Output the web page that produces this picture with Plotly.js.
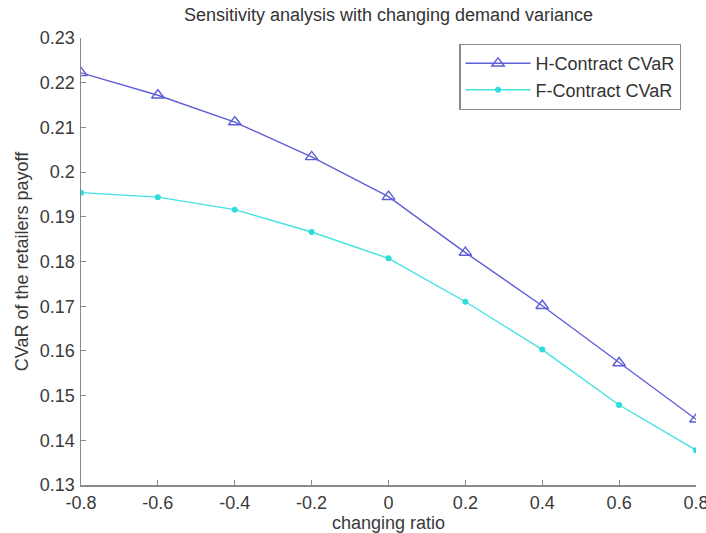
<!DOCTYPE html>
<html>
<head>
<meta charset="utf-8">
<script src="https://cdn.plot.ly/plotly-3.0.1.min.js"></script>
<style>html,body{margin:0;padding:0;background:#fff;}#chart{width:706px;height:533px;}</style>
</head>
<body>
<div id="chart"></div>
<script>
const changingRatio = [-0.8, -0.6, -0.4, -0.2, 0, 0.2, 0.4, 0.6, 0.8];
const hContractCVaR = [0.2222, 0.2172, 0.2112, 0.2034, 0.1945, 0.1820, 0.1701, 0.1573, 0.1447];
const fContractCVaR = [0.1954, 0.1944, 0.1916, 0.1866, 0.1807, 0.1710, 0.1603, 0.1479, 0.1378];
const xTickVals = [-0.8, -0.6, -0.4, -0.2, 0, 0.2, 0.4, 0.6, 0.8];
const xTickText = ['-0.8', '-0.6', '-0.4', '-0.2', '0', '0.2', '0.4', '0.6', '0.8'];
const yTickVals = [0.13, 0.14, 0.15, 0.16, 0.17, 0.18, 0.19, 0.2, 0.21, 0.22, 0.23];
const yTickText = ['0.13', '0.14', '0.15', '0.16', '0.17', '0.18', '0.19', '0.2', '0.21', '0.22', '0.23'];

const traces = [
  {
    x: changingRatio, y: hContractCVaR, name: 'H-Contract CVaR',
    type: 'scatter', mode: 'lines+markers',
    line: {color: '#5e5ed8', width: 1.4},
    marker: {symbol: 'triangle-up-open', size: 11, color: '#5e5ed8', line: {width: 1.4}}
  },
  {
    x: changingRatio, y: fContractCVaR, name: 'F-Contract CVaR',
    type: 'scatter', mode: 'lines+markers',
    line: {color: '#44e2e2', width: 1.4},
    marker: {symbol: 'circle', size: 6, color: '#2fdcdc'}
  }
];

const fam = 'Liberation Sans, Arial, sans-serif';
const axisFont = {family: fam, size: 18, color: '#3a3a3a'};
const layout = {
  width: 706, height: 533,
  margin: {l: 81, r: 10, t: 38, b: 48},
  paper_bgcolor: '#fff', plot_bgcolor: '#fff',
  title: {text: 'Sensitivity analysis with changing demand variance',
          font: {family: fam, size: 18, color: '#333'},
          xref: 'paper', x: 0.5, xanchor: 'center', y: 0.972, yanchor: 'middle'},
  xaxis: {
    range: [-0.8, 0.8], tickvals: xTickVals, ticktext: xTickText,
    showgrid: false, zeroline: false, showline: true, linecolor: '#8a8a8a', linewidth: 1.5,
    ticks: 'inside', ticklen: 5, tickcolor: '#8a8a8a', tickfont: axisFont,
    ticklabelstandoff: 1, ticklabeloverflow: 'allow',
    title: {text: 'changing ratio', font: axisFont, standoff: 5}
  },
  yaxis: {
    range: [0.13, 0.23], tickvals: yTickVals, ticktext: yTickText,
    showgrid: false, zeroline: false, showline: true, linecolor: '#8a8a8a', linewidth: 1.5,
    ticks: 'inside', ticklen: 5, tickcolor: '#8a8a8a', tickfont: axisFont,
    ticklabelstandoff: 1,
    title: {text: 'CVaR of the retailers payoff', font: axisFont, standoff: 6}
  },
  legend: {
    x: 0.615, y: 0.987, xanchor: 'left', yanchor: 'top',
    bgcolor: '#fff', bordercolor: '#8a8a8a', borderwidth: 1.3,
    font: {family: fam, size: 18, color: '#333'},
    itemwidth: 65, tracegroupgap: 0
  },
  showlegend: true
};

Plotly.newPlot('chart', traces, layout, {displayModeBar: false, staticPlot: true});
</script>
</body>
</html>
